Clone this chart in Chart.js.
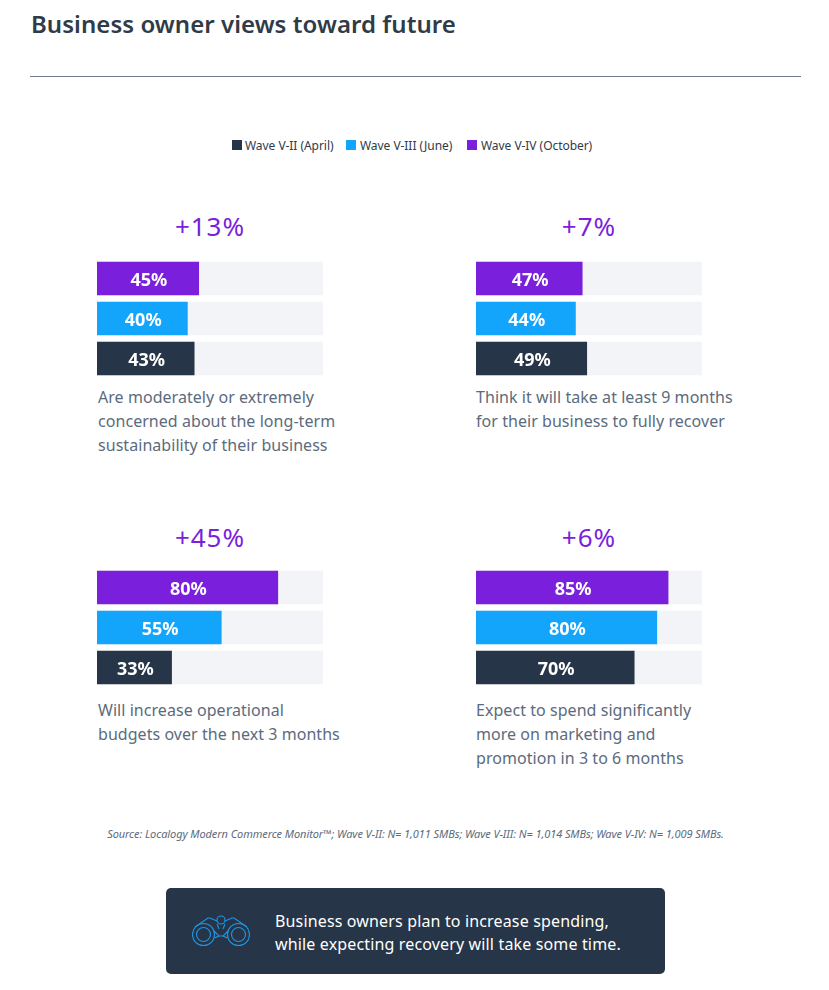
<!DOCTYPE html>
<html>
<head>
<meta charset="utf-8">
<title>Business owner views toward future</title>
<script src="https://cdn.jsdelivr.net/npm/chart.js@4"></script>
<style>
  body { margin: 0; background: #fff; font-family: "Noto Sans", sans-serif; }
  #page { position: relative; width: 829px; height: 990px; overflow: hidden; }
  #page > * { position: absolute; }
  h1 { margin: 0; left: 31px; top: 6px; font-size: 24px; line-height: 36px; font-weight: 600; color: #2f3b47; letter-spacing: 0.05px; white-space: nowrap; }
  #rule { left: 30px; top: 76px; width: 771px; height: 1px; background: #6d7c8c; }
  #legend { left: 0; top: 137px; font-size: 12px; line-height: 18px; color: #2f3b47; white-space: nowrap; letter-spacing: -0.05px; }
  #legend i { position: absolute; top: 3px; width: 10px; height: 10px; }
  #legend span { position: absolute; top: 0; }
  .delta { width: 226px; text-align: center; font-size: 26px; line-height: 34px; color: #7a1fdc; letter-spacing: 1px; }
  .desc { font-size: 16px; line-height: 24px; color: #5b6b7d; white-space: nowrap; letter-spacing: 0.05px; }
  canvas { position: absolute; }
  #source { left: 0; width: 831px; top: 826px; text-align: center; font-size: 11px; line-height: 16px; font-style: italic; color: #5b6b7d; letter-spacing: -0.08px; white-space: nowrap; }
  #callout { left: 166px; top: 888px; width: 499px; height: 86px; background: #263547; border-radius: 5px; }
  #callout svg { position: absolute; left: 26px; top: 27px; }
  #callout div { position: absolute; left: 109px; top: 22px; font-size: 16px; line-height: 23px; color: #fff; white-space: nowrap; letter-spacing: 0.15px; }
</style>
</head>
<body>
<div id="page">
  <h1>Business owner views toward future</h1>
  <div id="rule"></div>
  <div id="legend"></div>
  <div id="source">Source: Localogy Modern Commerce Monitor™; Wave V-II: N= 1,011 SMBs; Wave V-III: N= 1,014 SMBs; Wave V-IV: N= 1,009 SMBs.</div>
  <div id="callout">
    <svg width="58" height="32" viewBox="0 0 58 32" fill="none" stroke="#1e96e6" stroke-width="1.1">
      <circle cx="11.5" cy="19.5" r="11"/><circle cx="11.5" cy="19.5" r="7"/>
      <circle cx="46.5" cy="19.5" r="11"/><circle cx="46.5" cy="19.5" r="7"/>
      <circle cx="29" cy="5" r="4"/>
      <path d="M3 12 L16 3 H18 L25 6 M33 6 L40 3 H42 L55 12 M22 16 L27 21 L22.5 23 M36 16 L31 21 L35.5 23 M27 21 H31 M25 9 L27 14 M33 9 L31 14"/>
    </svg>
    <div>Business owners plan to increase spending,<br>while expecting recovery will take some time.</div>
  </div>
</div>
<script>
var waves = ["Wave V-IV (October)", "Wave V-III (June)", "Wave V-II (April)"];
var waveColors = ["#7a1fdc", "#12a5fb", "#263547"];
var trackColor = "#f3f4f8";

var deltas = ["+13%", "+7%", "+45%", "+6%"];
var valuesA = [45, 40, 43];
var valuesB = [47, 44, 49];
var valuesC = [80, 55, 33];
var valuesD = [85, 80, 70];
var full = [100, 100, 100];
var descA = ["Are moderately or extremely", "concerned about the long-term", "sustainability of their business"];
var descB = ["Think it will take at least 9 months", "for their business to fully recover"];
var descC = ["Will increase operational", "budgets over the next 3 months"];
var descD = ["Expect to spend significantly", "more on marketing and", "promotion in 3 to 6 months"];

var page = document.getElementById("page");

// Leyenda
var legendItems = [[232, 245, 2], [346, 360, 1], [467, 481, 0]];
var legend = document.getElementById("legend");
legendItems.forEach(function (it) {
  var sw = document.createElement("i");
  sw.style.left = it[0] + "px";
  sw.style.background = waveColors[it[2]];
  legend.appendChild(sw);
  var t = document.createElement("span");
  t.style.left = it[1] + "px";
  t.textContent = waves[it[2]];
  legend.appendChild(t);
});

// etiquetas dentro de las barras
var barLabels = {
  id: "barLabels",
  afterDatasetsDraw: function (chart) {
    var ctx = chart.ctx;
    var meta = chart.getDatasetMeta(0);
    ctx.save();
    ctx.font = "bold 18px 'Noto Sans'";
    ctx.fillStyle = "#fff";
    ctx.textAlign = "center";
    ctx.textBaseline = "middle";
    meta.data.forEach(function (bar, i) {
      ctx.fillText(chart.data.datasets[0].data[i] + "%", (bar.base + bar.x) / 2 + 1, bar.y + 2);
    });
    ctx.restore();
  }
};

function addPanel(left, top, delta, values, desc, descTop, deltaTop) {
  var d = document.createElement("div");
  d.className = "delta";
  d.style.left = left + "px";
  d.style.top = deltaTop + "px";
  d.textContent = delta;
  page.appendChild(d);

  var c = document.createElement("canvas");
  c.width = 226;
  c.height = 121;
  c.style.left = left + "px";
  c.style.top = (top - 4) + "px";
  page.appendChild(c);

  var p = document.createElement("div");
  p.className = "desc";
  p.style.left = (left + (left < 200 ? 1 : 0)) + "px";
  p.style.top = descTop + "px";
  p.innerHTML = desc.join("<br>");
  page.appendChild(p);

  new Chart(c, {
    type: "bar",
    data: {
      labels: waves,
      datasets: [
        { data: values, backgroundColor: waveColors, barThickness: 33, grouped: false, order: 1 },
        { data: full, backgroundColor: trackColor, barThickness: 33, grouped: false, order: 2 }
      ]
    },
    options: {
      indexAxis: "y",
      responsive: false,
      animation: false,
      devicePixelRatio: 1,
      layout: { padding: { top: 0.5, bottom: 0.5 } },
      plugins: { legend: { display: false }, tooltip: { enabled: false } },
      scales: {
        x: { display: false, min: 0, max: 100 },
        y: { display: false }
      }
    },
    plugins: [barLabels]
  });
}

addPanel(97, 262, deltas[0], valuesA, descA, 385, 209);
addPanel(476, 262, deltas[1], valuesB, descB, 385, 209);
addPanel(97, 571, deltas[2], valuesC, descC, 698, 520);
addPanel(476, 571, deltas[3], valuesD, descD, 698, 520);
</script>
</body>
</html>
